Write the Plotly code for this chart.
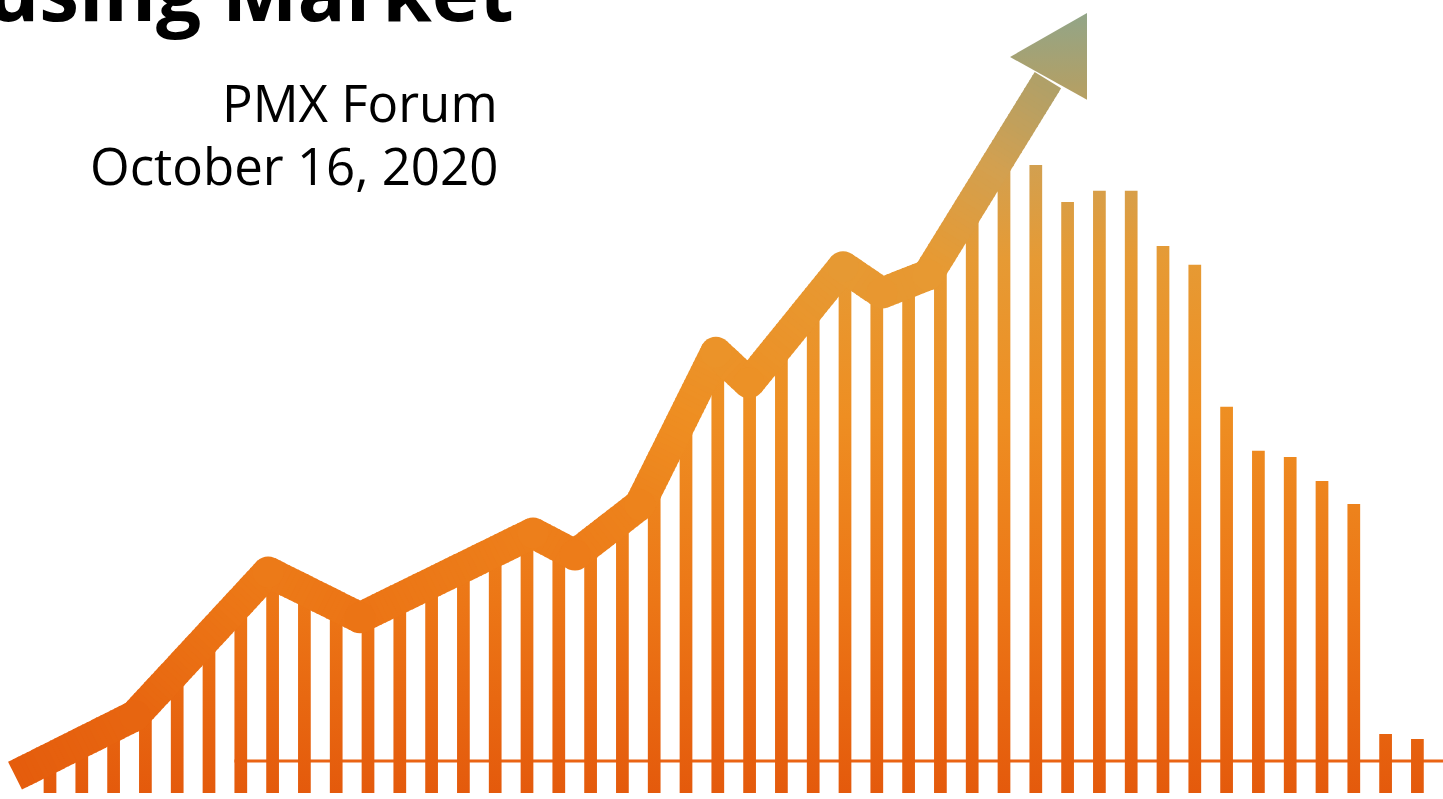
import math
import plotly.graph_objects as go

# ---------------- data ----------------
# one vertical bar per period (index 0..43), heights in index points
bar_index = list(range(44))
bar_values = [5.6, 8.1, 10.6, 14.1, 19.6, 25.1, 30.5, 34.8, 32.3, 29.8,
              28.5, 31.0, 33.5, 36.0, 38.5, 41.0, 39.3, 39.8, 43.7, 50.5,
              60.6, 69.9, 65.4, 71.6, 77.9, 83.6, 80.2, 81.3, 85.7, 93.9,
              102.1, 100.0, 94.1, 95.9, 95.9, 87.1, 84.1, 61.5, 54.5, 53.5,
              49.7, 46.0, 9.4, 8.6]

# trend line drawn over the bars (period, level)
trend_x = [-1.1, 2.67, 6.86, 9.75, 15.19, 16.51, 18.55, 20.94, 21.98,
           24.94, 26.16, 27.61, 31.38]
trend_y = [2.75, 12.3, 35.2, 27.9, 41.4, 37.9, 45.9, 70.2, 65.3,
           83.8, 79.6, 82.5, 113.5]

# arrow head at the end of the trend line: tip, left wing, right wing
arrow_x = [32.61, 30.19, 32.61]
arrow_y = [124.2, 117.2, 110.4]

# reference level line
baseline_level = 5.1
baseline_start = 5.8

title_text = "Housing Market"
subtitle_lines = ["PMX Forum", "October 16, 2020"]

# ---------------- geometry / style ----------------
W, H = 1443, 799
X_RANGE = [-1.5723, 43.805]
Y_RANGE = [-0.955, 126.27]
PX_X = W / (X_RANGE[1] - X_RANGE[0])
PX_Y = H / (Y_RANGE[1] - Y_RANGE[0])

BAR_HALF = 0.2
LINE_W = 31

# vertical colour ramp (level -> colour)
GRAD = [(0.0, "#E45A0C"), (30.0, "#EC7616"), (60.0, "#EE8E22"),
        (85.0, "#E69A34"), (100.0, "#D2A050"), (113.0, "#B0A068"),
        (126.27, "#8CA68E")]
G_LO, G_HI = GRAD[0][0], GRAD[-1][0]
colorscale = [[(v - G_LO) / (G_HI - G_LO), c] for v, c in GRAD]


def hex_rgb(h):
    h = h.lstrip("#")
    return tuple(int(h[i:i + 2], 16) for i in (0, 2, 4))


def ramp(v):
    v = min(max(v, G_LO), G_HI)
    for (v0, c0), (v1, c1) in zip(GRAD[:-1], GRAD[1:]):
        if v0 <= v <= v1:
            t = (v - v0) / (v1 - v0) if v1 > v0 else 0
            a, b = hex_rgb(c0), hex_rgb(c1)
            r = [round(a[k] + (b[k] - a[k]) * t) for k in range(3)]
            return "rgb(%d,%d,%d)" % tuple(r)
    return GRAD[-1][1]


grad_fill = dict(type="vertical", colorscale=colorscale, start=G_LO, stop=G_HI)

fig = go.Figure()

# level line behind the bars
fig.add_trace(go.Scatter(
    x=[baseline_start, X_RANGE[1] + 1], y=[baseline_level, baseline_level],
    mode="lines", line=dict(color="#EA6414", width=3), hoverinfo="skip"))

# bars as filled rectangles sharing one vertical gradient
bx, by = [], []
for i, v in zip(bar_index, bar_values):
    bx += [i - BAR_HALF, i - BAR_HALF, i + BAR_HALF, i + BAR_HALF, i - BAR_HALF, None]
    by += [0, v, v, 0, 0, None]
fig.add_trace(go.Scatter(x=bx, y=by, mode="none", fill="toself",
                         fillgradient=grad_fill, hoverinfo="skip"))

# thick trend line, split into short pieces so the colour follows the level
pts = list(zip(trend_x, trend_y))
for s, ((x0, y0), (x1, y1)) in enumerate(zip(pts[:-1], pts[1:])):
    L = math.hypot((x1 - x0) * PX_X, (y1 - y0) * PX_Y)
    n = max(1, int(L / 5))
    ext = 1.5 / L
    last_seg = s == len(pts) - 2
    for k in range(n):
        t0 = k / n
        t1 = (k + 1) / n
        if not (last_seg and k == n - 1):
            t1 += ext
        xa, ya = x0 + (x1 - x0) * t0, y0 + (y1 - y0) * t0
        xb, yb = x0 + (x1 - x0) * t1, y0 + (y1 - y0) * t1
        fig.add_trace(go.Scatter(
            x=[xa, xb], y=[ya, yb], mode="lines",
            line=dict(color=ramp((ya + yb) / 2), width=LINE_W),
            hoverinfo="skip"))

# rounded joints at the turning points
fig.add_trace(go.Scatter(
    x=trend_x[1:-1], y=trend_y[1:-1], mode="markers",
    marker=dict(size=LINE_W, color=[ramp(v) for v in trend_y[1:-1]],
                line=dict(width=0)),
    hoverinfo="skip"))

# arrow head
fig.add_trace(go.Scatter(
    x=arrow_x + [arrow_x[0]], y=arrow_y + [arrow_y[0]], mode="none",
    fill="toself", fillgradient=grad_fill, hoverinfo="skip"))

# ---------------- text ----------------
TITLE_SIZE = 80
fig.add_annotation(
    text="<b>%s</b>" % title_text, xref="paper", yref="paper",
    x=516 / W, y=1 - (21 - 0.388 * TITLE_SIZE) / H,
    xanchor="right", yanchor="middle",
    showarrow=False, font=dict(family="Open Sans", size=TITLE_SIZE, color="#000000"))

SUB_SIZE = 51
for line, base in zip(subtitle_lines, [122, 185]):
    fig.add_annotation(
        text=line, xref="paper", yref="paper",
        x=500 / W, y=1 - (base - 0.388 * SUB_SIZE) / H,
        xanchor="right", yanchor="middle", showarrow=False,
        font=dict(family="Open Sans", size=SUB_SIZE, color="#000000"))

fig.update_layout(
    width=W, height=H, margin=dict(l=0, r=0, t=0, b=0),
    paper_bgcolor="white", plot_bgcolor="white", showlegend=False,
    hovermode=False,
    xaxis=dict(range=X_RANGE, visible=False, fixedrange=True),
    yaxis=dict(range=Y_RANGE, visible=False, fixedrange=True))

fig.write_html("out.html", config={"displayModeBar": False})
